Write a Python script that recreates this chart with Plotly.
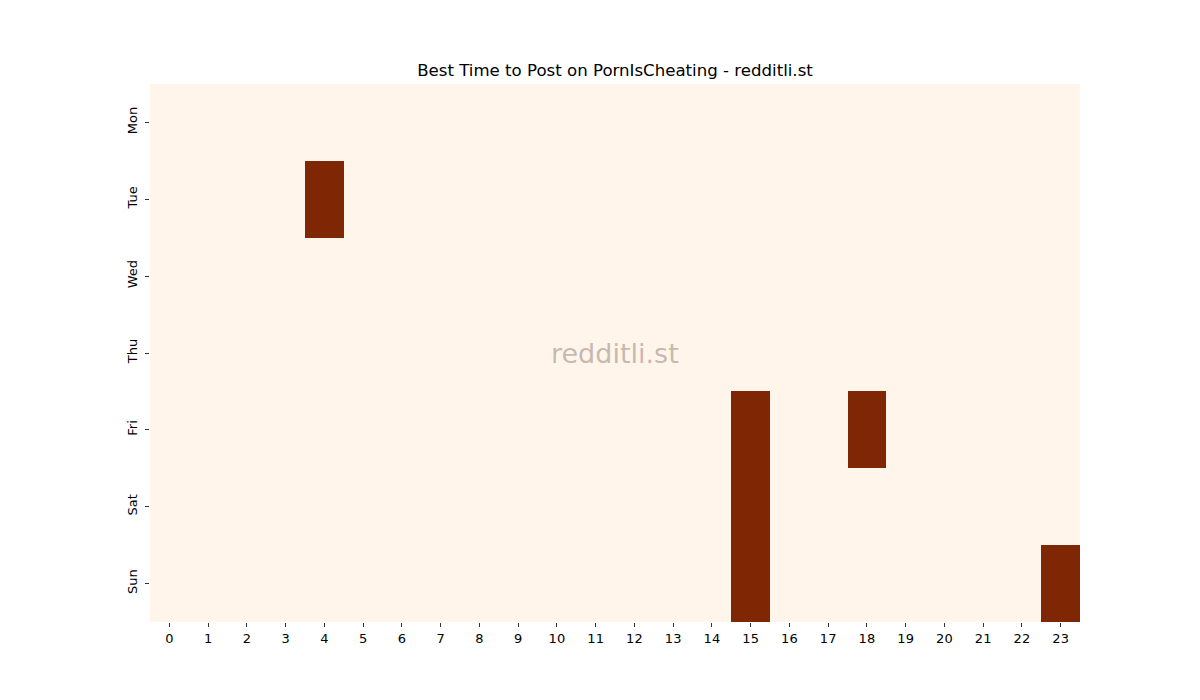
import plotly.graph_objects as go

days = ["Mon", "Tue", "Wed", "Thu", "Fri", "Sat", "Sun"]
hours = [str(h) for h in range(24)]

# 1 = best time slot, 0 = otherwise
mon = [0]*24
tue = [0,0,0,0,1,0,0,0,0,0,0,0,0,0,0,0,0,0,0,0,0,0,0,0]
wed = [0]*24
thu = [0]*24
fri = [0,0,0,0,0,0,0,0,0,0,0,0,0,0,0,1,0,0,1,0,0,0,0,0]
sat = [0,0,0,0,0,0,0,0,0,0,0,0,0,0,0,1,0,0,0,0,0,0,0,0]
sun = [0,0,0,0,0,0,0,0,0,0,0,0,0,0,0,1,0,0,0,0,0,0,0,1]
values = [mon, tue, wed, thu, fri, sat, sun]

fig = go.Figure(go.Heatmap(
    z=values, x=hours, y=days,
    zmin=0, zmax=1,
    colorscale=[[0, "#fff5eb"], [1, "#7f2704"]],
    showscale=False, xgap=0, ygap=0,
))

fig.update_layout(
    width=1200, height=700,
    margin=dict(l=142, r=128, t=76, b=86),
    paper_bgcolor="white", plot_bgcolor="white",
    font=dict(family="DejaVu Sans", size=13, color="black"),
    title=dict(text="Best Time to Post on PornIsCheating - redditli.st",
               x=(142 + 465) / 1200, xanchor="center", y=1 - 62/700, yanchor="middle",
               font=dict(size=16.6, color="black")),
    xaxis=dict(type="category", ticks="outside", ticklen=4, tickcolor="#333",
               showgrid=False, zeroline=False, showline=False),
    yaxis=dict(type="category", autorange="reversed", ticks="outside", ticklen=4,
               tickcolor="#333", tickangle=-90, ticklabelstandoff=3,
               showgrid=False, zeroline=False, showline=False),
    annotations=[dict(text="redditli.st", x=0.5, y=0.5, xref="paper", yref="paper",
                      showarrow=False, font=dict(size=27, color="rgba(120,95,85,0.42)"))],
)

fig.write_html("out.html")
